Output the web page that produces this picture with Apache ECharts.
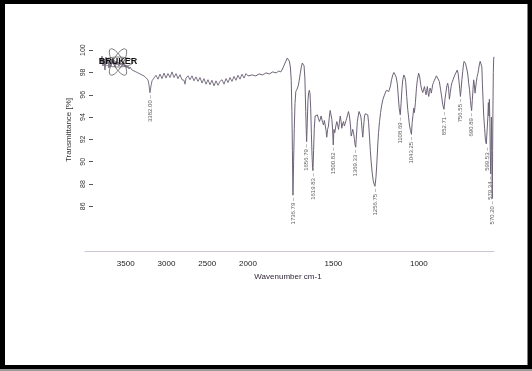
<!DOCTYPE html>
<html>
<head>
<meta charset="utf-8">
<script src="https://cdn.jsdelivr.net/npm/echarts@6/dist/echarts.min.js"></script>
<style>
html,body{margin:0;padding:0;background:#fff;}
#c{width:532px;height:371px;}
</style>
</head>
<body>
<div id="c"></div>
<script>
// ---- data ----
const highWn = [3816,3804,3791,3779,3767,3755,3742,3730,3718,3706,3693,3681,3669,3657,3644,3632,3620,3608,3595,3583,3571,3559,3546,3534,3522,3509,3497,3485,3473,3460,3448,
  3423,3399,3374,3350,3325,3301,3276,3252,3227,3215,3203,3190,3178,
  3154,3129,3104,3080,3055,3031,3006,2982,2957,2932,2908,2883,2859,2834,2810,2785,2773,2761,
  2736,2712,2687,2663,2638,2614,2589,2564,2540,2515,2491,2466,2442,2417,2393,2368,2344,2319,2294,2270,2245,2221,2196,2172,2147,2123,2098,2074,2049,2025,2000];
const highT = [99.29,98.85,99.47,98.58,99.20,98.22,99.38,98.76,99.29,98.40,99.11,98.58,99.20,98.76,99.11,98.49,99.02,98.67,98.93,98.58,98.93,98.67,98.85,98.58,98.76,98.49,98.67,98.40,98.58,98.31,98.49,
  98.22,98.31,98.05,98.13,97.87,97.96,97.69,97.60,97.34,96.89,96.18,96.80,97.25,
  97.35,97.75,97.40,97.85,97.45,97.95,97.50,97.90,97.55,98.05,97.55,97.90,97.45,97.80,97.35,97.30,96.95,97.50,
  97.70,97.35,97.70,97.25,97.60,97.20,97.55,97.05,97.45,96.95,97.35,96.90,97.30,96.80,97.25,96.85,97.20,97.35,96.95,97.45,97.10,97.55,97.20,97.65,97.30,97.75,97.40,97.85,97.50,97.90,97.69];

const lowWn = [
  2000,1975,1955,1935,1915,1895,1875,1855,1835,1820,
  1808,1798,1788,1778,1770,1764,1758,1752,1747,1743,
  1740,1736.79,1733,1729,1725,1720,1713,1706,1700,1694,
  1688,1682,1677,1672,1667,1662,1659,1656.79,1653,1649,
  1645,1641,1637,1633,1629,1625,1622,1619.83,1616,1612,
  1607,1601,1594,1588,1582,1577,1572,1568,1563,1558,
  1553,1548,1543,1539,1534,1529,1524,1519,1513,1509,
  1505,1500.82,1497,1492,1486,1480,1475,1470,1465,1460,
  1455,1451,1446,1441,1436,1431,1426,1422,1417,1412,
  1406,1400,1396,1391,1387,1382,1377,1373,1369.33,1365,
  1360,1355,1350,1345,1340,1336,1332,1328,1324,1318,
  1313,1308,1303,1299,1294,1289,1284,1279,1273,1267,
  1262,1256.75,1251,1246,1240,1236,1230,1224,1217,1210,
  1203,1197,1190,1182,1176,1172,1166,1160,1152,1146,
  1142,1138,1133,1126,1120,1115,1108.69,1104,1099,1094,
  1088,1082,1077,1071,1065,1060,1055,1049,1043.25,1039,
  1034,1030,1026,1020,1014,1008,1001,995,989,983,
  977,972,967,962,958,954,950,946,942,938,
  934,930,927,922,919,914,909,903,897,892,
  886,880,873,866,860,852.71,847,842,836,831,
  826,821,816,811,806,800,795,789,784,780,
  775,770,765,761,756.55,752,748,743,739,735,
  731,727,722,718,713,708,703,698,694,690.89,
  687,683,679,675,671,667,663,659,654,650,
  646,641,637,634,631,628,624,620,615,610,
  605,599.53,596,593,590,587,584,582,579.34,577,
  575,573,570.2,568,566,564,562,560];
const lowT = [
  97.69,97.78,97.69,97.87,97.78,97.96,97.87,98.05,97.96,98.13,
  98.05,98.31,98.67,99.02,99.29,99.29,99.02,98.49,97.3,94.5,
  91.0,87.0,90.0,93.0,95.2,96.3,96.5,96.8,97.3,97.9,
  98.5,98.85,98.9,98.6,97.5,94.5,92.8,91.8,93.5,95.5,
  96.2,96.4,96.1,94.8,92.5,90.5,89.5,89.2,91.0,93.0,
  94.1,94.0,94.2,93.9,93.6,93.8,94.1,94.0,93.5,93.3,
  93.7,93.6,92.8,92.2,92.9,93.2,94.0,94.6,94.1,93.8,
  92.9,91.5,92.9,92.6,93.2,93.6,93.3,92.9,93.5,94.1,
  93.6,93.0,93.4,93.6,93.2,93.3,93.7,93.9,94.2,94.5,
  94.1,93.2,92.3,92.6,92.9,92.6,92.0,91.5,91.3,92.4,
  93.6,94.1,94.5,94.4,94.1,93.6,92.8,92.2,93.0,94.1,
  94.3,94.4,94.3,94.2,93.5,92.3,91.0,90.0,89.0,88.3,
  88.0,87.8,88.6,89.8,91.6,92.6,93.6,94.4,95.1,95.6,
  95.9,96.15,96.4,96.45,96.3,96.15,96.8,97.34,97.8,98.0,
  98.07,98.0,97.6,97.0,95.8,94.8,94.2,95.2,96.5,97.34,
  97.78,97.6,97.2,95.85,94.7,94.0,93.3,92.8,92.45,93.5,
  94.2,94.8,94.4,95.3,96.6,97.4,97.93,97.6,96.9,96.45,
  96.2,96.3,96.74,96.3,96.0,96.4,96.74,96.2,95.85,96.3,
  96.6,96.4,96.15,96.6,96.9,97.1,97.3,97.49,97.7,97.78,
  97.6,97.2,96.5,95.8,95.1,94.7,95.6,96.15,96.8,97.04,
  96.6,95.6,96.2,96.74,97.1,97.34,97.49,97.78,97.63,97.8,
  98.22,97.9,97.2,96.6,95.85,96.6,97.34,98.1,98.67,99.0,
  99.11,98.82,98.5,98.22,97.78,97.0,96.45,95.5,94.9,94.58,
  95.5,96.45,97.34,96.9,96.15,96.7,97.19,97.63,97.93,98.3,
  98.67,99.0,99.11,99.15,98.5,97.04,95.5,94.08,93.0,91.9,
  91.6,91.5,94.0,95.3,94.1,95.6,93.5,91.0,88.9,91.5,
  94.0,91.0,86.7,91.0,95.0,98.0,99.2,99.4];

// peak annotations
const highPeakWn = [3203];
const highPeakLabels = ['3382.00'];
const lowPeakWn = [1736.79,1656.79,1619.83,1500.82,1369.33,1256.75,1108.69,1043.25,852.71,756.55,690.89,599.53,579.34,570.2];
const lowPeakLabels = ['1736.79','1656.79','1619.83','1500.82','1369.33','1256.75','1108.69','1043.25','852.71','756.55','690.89','599.53','579.34','570.20'];

// tick labels
const xTicksHigh = [3500,3000,2500,2000];
const xTicksLow = [1500,1000];
const yTicks = [86,88,90,92,94,96,98,100];

// ---- chart ----
const highData = highWn.map((w,i)=>[w, highT[i]]);
const lowData = lowWn.map((w,i)=>[w, lowT[i]]);
const highPeaks = highPeakWn.map((w,i)=>[w, highT[highWn.indexOf(w)], highPeakLabels[i]]);
const lowPeaks = lowPeakWn.map((w,i)=>[w, lowT[lowWn.indexOf(w)], lowPeakLabels[i]]);

const lineColor = '#6d6377';
const axisLineColor = '#cdc4d2';
const fontFam = 'Liberation Sans, Arial, sans-serif';
const plain = v => String(v);
const peakLabel = {
  show:true, position:'bottom', distance:2, rotate:90, align:'right', verticalAlign:'middle',
  fontSize:6, fontFamily:fontFam, color:'#333',
  formatter: p => p.value[2] + ' \u2013'
};
const yCommon = {type:'value', min:82, max:101, interval:2, splitLine:{show:false}};

const chart = echarts.init(document.getElementById('c'));
chart.setOption({
  animation:false,
  backgroundColor:'#ffffff',
  grid:[
    {left:85, width:163, top:39, height:212},
    {left:248, width:246, top:39, height:212}
  ],
  xAxis:[
    {gridIndex:0, type:'value', min:2000, max:4000, interval:500, inverse:true,
     axisLine:{show:true, lineStyle:{color:axisLineColor, width:1}}, axisTick:{show:false}, splitLine:{show:false},
     axisLabel:{customValues:xTicksHigh, formatter:plain, fontSize:8, margin:9, color:'#222', fontFamily:fontFam}},
    {gridIndex:1, type:'value', min:560, max:2000, inverse:true,
     axisLine:{show:true, lineStyle:{color:axisLineColor, width:1}}, axisTick:{show:false}, splitLine:{show:false},
     axisLabel:{customValues:xTicksLow, formatter:plain, fontSize:8, margin:9, color:'#222', fontFamily:fontFam}}
  ],
  yAxis:[
    Object.assign({gridIndex:0, offset:-8,
      axisLine:{show:false},
      axisTick:{show:true, length:4, customValues:yTicks, lineStyle:{color:'#555', width:1}},
      axisLabel:{customValues:yTicks, formatter:plain, rotate:90, fontSize:7, margin:6, color:'#333', fontFamily:fontFam}}, yCommon),
    Object.assign({gridIndex:1, show:false}, yCommon)
  ],
  graphic:[
    {type:'text', x:68.5, y:130, rotation:Math.PI/2,
     style:{text:'Transmittance [%]', font:'8px "Liberation Sans", Arial, sans-serif', fill:'#333',
            align:'center', verticalAlign:'middle', textAlign:'center', textVerticalAlign:'middle'}},
    {type:'text', x:288, y:277,
     style:{text:'Wavenumber cm-1', font:'8px "Liberation Sans", Arial, sans-serif', fill:'#2a1f33',
            align:'center', verticalAlign:'middle', textAlign:'center', textVerticalAlign:'middle'}},
    {type:'ellipse', x:118, y:62, rotation:0, shape:{cx:0, cy:0, rx:15, ry:5}, style:{fill:'none', stroke:'#666', lineWidth:0.8}},
    {type:'ellipse', x:118, y:62, rotation:Math.PI/3, shape:{cx:0, cy:0, rx:15, ry:5}, style:{fill:'none', stroke:'#666', lineWidth:0.8}},
    {type:'ellipse', x:118, y:62, rotation:-Math.PI/3, shape:{cx:0, cy:0, rx:15, ry:5}, style:{fill:'none', stroke:'#666', lineWidth:0.8}},
    {type:'text', x:118, y:62, z:100,
     style:{text:'BRUKER', font:'bold 9px "Liberation Sans", Arial, sans-serif', fill:'#111',
            align:'center', verticalAlign:'middle', textAlign:'center', textVerticalAlign:'middle'}},
    {type:'rect', shape:{x:0, y:0, width:5, height:371}, style:{fill:'#000'}},
    {type:'rect', shape:{x:0, y:0, width:532, height:4}, style:{fill:'#000'}},
    {type:'rect', shape:{x:527.5, y:0, width:4.5, height:371}, style:{fill:'#000'}},
    {type:'rect', shape:{x:0, y:365, width:532, height:4}, style:{fill:'#000'}},
    {type:'rect', shape:{x:0, y:369, width:532, height:2}, style:{fill:'#9a9a9a'}}
  ],
  series:[
    {type:'line', xAxisIndex:0, yAxisIndex:0, data:highData, symbol:'none', lineStyle:{color:lineColor, width:0.9}},
    {type:'line', xAxisIndex:1, yAxisIndex:1, data:lowData, symbol:'none', lineStyle:{color:lineColor, width:1}},
    {type:'scatter', xAxisIndex:0, yAxisIndex:0, data:highPeaks, symbolSize:1, itemStyle:{color:'rgba(0,0,0,0)'}, label:peakLabel},
    {type:'scatter', xAxisIndex:1, yAxisIndex:1, data:lowPeaks, symbolSize:1, itemStyle:{color:'rgba(0,0,0,0)'}, label:peakLabel}
  ]
});
</script>
</body>
</html>
